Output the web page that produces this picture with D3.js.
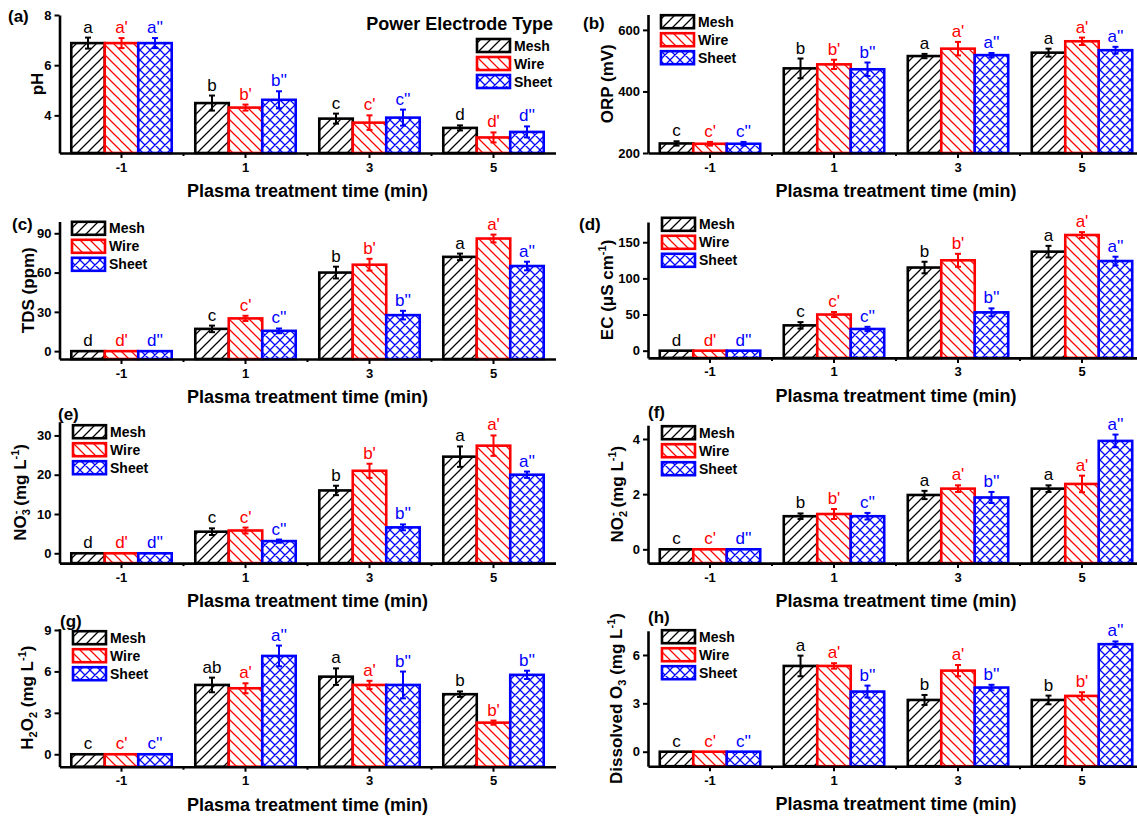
<!DOCTYPE html>
<html>
<head>
<meta charset="utf-8">
<script src="https://cdn.jsdelivr.net/npm/d3@7"></script>
<style>
  html, body { margin: 0; padding: 0; background: #fff; }
  svg { display: block; font-family: "Liberation Sans", Arial, sans-serif; }
</style>
</head>
<body>
<svg id="chart" width="1137" height="821"></svg>
<script>
// ---- data ----------------------------------------------------------------
const categories = ["-1", "1", "3", "5"];
const series = ["Mesh", "Wire", "Sheet"];
const seriesColors = ["#000000", "#ff0000", "#0000ff"];

// pH
const phMean = [[6.88, 4.49, 3.87, 3.50], [6.88, 4.31, 3.71, 3.12], [6.88, 4.62, 3.91, 3.34]];
const phErr  = [[0.22, 0.30, 0.20, 0.10], [0.20, 0.12, 0.29, 0.20], [0.20, 0.34, 0.32, 0.22]];
const phSig  = [["a", "b", "c", "d"], ["a'", "b'", "c'", "d'"], ["a''", "b''", "c''", "d''"]];
const phTicks = [4, 6, 8];

// ORP (mV)
const orpMean = [[231, 475, 515, 526], [230, 488, 539, 563], [230, 472, 518, 534]];
const orpErr  = [[7, 32, 7, 13], [6, 15, 22, 12], [6, 22, 7, 11]];
const orpSig  = [["c", "b", "a", "a"], ["c'", "b'", "a'", "a'"], ["c''", "b''", "a''", "a''"]];
const orpTicks = [200, 400, 600];

// TDS (ppm)
const tdsMean = [[0, 17, 60, 72], [0, 25, 66, 86], [0, 15.5, 27.5, 65]];
const tdsErr  = [[0, 2.5, 4.5, 2.5], [0, 2, 4.5, 3], [0, 1.8, 3.3, 3.3]];
const tdsSig  = [["d", "c", "b", "a"], ["d'", "c'", "b'", "a'"], ["d''", "c''", "b''", "a''"]];
const tdsTicks = [0, 30, 60, 90];

// EC (uS/cm)
const ecMean = [[0, 35, 115, 137], [0, 50, 125, 160], [0, 30, 53, 124]];
const ecErr  = [[0, 4.5, 8, 8], [0, 3.5, 9, 4], [0, 3, 5.5, 6]];
const ecSig  = [["d", "c", "b", "a"], ["d'", "c'", "b'", "a'"], ["d''", "c''", "b''", "a''"]];
const ecTicks = [0, 50, 100, 150];

// Nitrate (mg/L)
const no3Mean = [[0, 5.5, 16, 24.6], [0, 5.8, 21, 27.4], [0, 3.1, 6.6, 20]];
const no3Err  = [[0, 0.85, 1.2, 2.6], [0, 0.75, 1.8, 2.6], [0, 0.4, 0.75, 0.8]];
const no3Sig  = [["d", "c", "b", "a"], ["d'", "c'", "b'", "a'"], ["d''", "c''", "b''", "a''"]];
const no3Ticks = [0, 10, 20, 30];

// Nitrite (mg/L)
const no2Mean = [[0, 1.2, 1.97, 2.2], [0, 1.28, 2.2, 2.37], [0, 1.2, 1.88, 3.93]];
const no2Err  = [[0, 0.1, 0.15, 0.12], [0, 0.18, 0.12, 0.3], [0, 0.12, 0.2, 0.23]];
const no2Sig  = [["c", "b", "a", "a"], ["c'", "b'", "a'", "a'"], ["d''", "c''", "b''", "a''"]];
const no2Ticks = [0, 2, 4];

// Hydrogen peroxide (mg/L)
const h2o2Mean = [[0, 5.02, 5.62, 4.35], [0, 4.78, 5.02, 2.29], [0, 7.12, 5.02, 5.75]];
const h2o2Err  = [[0, 0.53, 0.6, 0.2], [0, 0.36, 0.3, 0.15], [0, 0.75, 0.97, 0.3]];
const h2o2Sig  = [["c", "ab", "a", "b"], ["c'", "a'", "a'", "b'"], ["c''", "a''", "b''", "b''"]];
const h2o2Ticks = [0, 3, 6, 9];

// Dissolved ozone (mg/L)
const o3Mean = [[0, 5.32, 3.21, 3.21], [0, 5.32, 5.03, 3.46], [0, 3.73, 3.98, 6.67]];
const o3Err  = [[0, 0.64, 0.31, 0.27], [0, 0.17, 0.35, 0.23], [0, 0.37, 0.17, 0.17]];
const o3Sig  = [["c", "a", "b", "b"], ["c'", "a'", "a'", "b'"], ["c''", "b''", "b''", "a''"]];
const o3Ticks = [0, 3, 6];

// ---- panel layout ---------------------------------------------------------
const L = 59.5, R = 648, W = 496;
const panels = [
  { tag: "(a)", tagX: 8,   tagY: 22,  x0: L, yr: [153, 15],     dom: [2.5, 8],   ticks: phTicks,   mean: phMean,   err: phErr,   sig: phSig,
    title: [["pH"]], titleX: 37, legX: 477, legY: 45.5, legendTitle: true },
  { tag: "(b)", tagX: 583, tagY: 29,  x0: R, yr: [153, 14.5],   dom: [200, 650], ticks: orpTicks,  mean: orpMean,  err: orpErr,  sig: orpSig,
    title: [["ORP (mV)"]], titleX: 606.5, legX: 661, legY: 21.7 },
  { tag: "(c)", tagX: 12,  tagY: 230, x0: L, yr: [359, 221.5],  dom: [-6, 99],   ticks: tdsTicks,  mean: tdsMean,  err: tdsErr,  sig: tdsSig,
    title: [["TDS (ppm)"]], titleX: 27.5, legX: 72, legY: 228.3 },
  { tag: "(d)", tagX: 579, tagY: 230, x0: R, yr: [357.9, 222],  dom: [-10, 178], ticks: ecTicks,   mean: ecMean,   err: ecErr,   sig: ecSig,
    title: [["EC (\u03bcS cm"], ["-1", "sup"], [")"]], titleX: 606.5, legX: 662, legY: 224.3 },
  { tag: "(e)", tagX: 58,  tagY: 420, x0: L, yr: [563.1, 421.7], dom: [-2.5, 33.5], ticks: no3Ticks, mean: no3Mean, err: no3Err, sig: no3Sig,
    title: [["NO"], ["3", "sub"], ["-", "supk"], [" (mg L"], ["-1", "sup"], [")"]], titleX: 20, legX: 73, legY: 431.7 },
  { tag: "(f)", tagX: 648, tagY: 418, x0: R, yr: [563.1, 425.2], dom: [-0.5, 4.5], ticks: no2Ticks, mean: no2Mean, err: no2Err, sig: no2Sig,
    title: [["NO"], ["2", "sub"], ["-", "supk"], [" (mg L"], ["-1", "sup"], [")"]], titleX: 617, legX: 662, legY: 432.7 },
  { tag: "(g)", tagX: 60,  tagY: 627, x0: L, yr: [766.7, 628.6], dom: [-0.9, 9.1], ticks: h2o2Ticks, mean: h2o2Mean, err: h2o2Err, sig: h2o2Sig,
    title: [["H"], ["2", "sub"], ["O"], ["2", "sub"], [" (mg L"], ["-1", "sup"], [")"]], titleX: 27, legX: 73, legY: 637.7 },
  { tag: "(h)", tagX: 648, tagY: 623, x0: R, yr: [766.2, 630.8], dom: [-0.9, 7.5], ticks: o3Ticks, mean: o3Mean, err: o3Err, sig: o3Sig,
    title: [["Dissolved O"], ["3", "sub"], [" (mg L"], ["-1", "sup"], [")"]], titleX: 615.5, legX: 662, legY: 636.7 }
];

const svg = d3.select("#chart");
const defs = svg.append("defs");

// hatch fills: "/" for Mesh, "\" for Wire, cross for Sheet
const hatchKinds = ["fwd", "back", "cross"];
function makeHatch(id, color, kind) {
  const s = 10;
  const p = defs.append("pattern").attr("id", id)
    .attr("patternUnits", "userSpaceOnUse").attr("width", s).attr("height", s);
  p.append("rect").attr("width", s).attr("height", s).attr("fill", "#fff");
  let d = "";
  if (kind === "fwd" || kind === "cross") d += `M-1,${s + 1} L${s + 1},-1 M-1,1 L1,-1 M${s - 1},${s + 1} L${s + 1},${s - 1} `;
  if (kind === "back" || kind === "cross") d += `M-1,-1 L${s + 1},${s + 1} M-1,${s - 1} L1,${s + 1} M${s - 1},-1 L${s + 1},1`;
  p.append("path").attr("d", d).attr("stroke", color).attr("stroke-width", 1.25).attr("fill", "none");
}
series.forEach((s, i) => makeHatch("hatch-" + s, seriesColors[i], hatchKinds[i]));

function drawPanel(P) {
  const g = svg.append("g");
  const x = d3.scaleBand().domain(categories).range([P.x0, P.x0 + W]).paddingInner(0.19).paddingOuter(0.095);
  const xs = d3.scaleBand().domain(series).range([0, x.bandwidth()]);
  const y = d3.scaleLinear().domain(P.dom).range(P.yr);
  const yBase = P.yr[0];

  // bars
  series.forEach((s, si) => {
    g.append("g").selectAll("rect").data(categories).join("rect")
      .attr("x", c => x(c) + xs(s))
      .attr("y", (c, ci) => y(P.mean[si][ci]))
      .attr("width", xs.bandwidth())
      .attr("height", (c, ci) => yBase - y(P.mean[si][ci]))
      .attr("fill", `url(#hatch-${s})`)
      .attr("stroke", seriesColors[si]).attr("stroke-width", 2.6);
  });

  // error bars and significance letters
  series.forEach((s, si) => {
    const col = seriesColors[si];
    categories.forEach((c, ci) => {
      const v = P.mean[si][ci], e = P.err[si][ci];
      const cx = x(c) + xs(s) + xs.bandwidth() / 2;
      const yt = y(v + e), yb = Math.min(y(v - e), yBase);
      if (e > 0) {
        g.append("line").attr("x1", cx).attr("x2", cx).attr("y1", yt).attr("y2", yb)
          .attr("stroke", col).attr("stroke-width", 2);
        [yt, yb].forEach(yy => g.append("line").attr("x1", cx - 3).attr("x2", cx + 3)
          .attr("y1", yy).attr("y2", yy).attr("stroke", col).attr("stroke-width", 2));
      }
      g.append("text").attr("x", cx).attr("y", yt - 5).attr("text-anchor", "middle")
        .attr("font-size", 17).attr("fill", col).text(P.sig[si][ci]);
    });
  });

  // axes
  const xAxis = g.append("g").attr("transform", `translate(0,${yBase})`)
    .call(d3.axisBottom(x).tickSize(5).tickSizeOuter(0).tickPadding(3));
  const bounds = d3.range(1, categories.length).map(i => P.x0 + x.step() * i);
  xAxis.selectAll(".minor").data(bounds).join("line").attr("class", "minor")
    .attr("x1", d => d).attr("x2", d => d).attr("y1", 0).attr("y2", 3)
    .attr("stroke", "#000").attr("stroke-width", 2);
  const yAxis = g.append("g").attr("transform", `translate(${P.x0},0)`)
    .call(d3.axisLeft(y).tickValues(P.ticks).tickSize(5).tickSizeOuter(0).tickPadding(3).tickFormat(d3.format("d")));
  [xAxis, yAxis].forEach(a => {
    a.select(".domain").attr("stroke", "#000").attr("stroke-width", 2.6);
    a.selectAll(".tick line").attr("stroke", "#000").attr("stroke-width", 2);
    a.selectAll(".tick text").attr("fill", "#000").attr("font-size", 13).attr("font-weight", "bold")
      .attr("font-family", "Liberation Sans, Arial, sans-serif");
  });
  xAxis.selectAll(".tick text").attr("dy", null).attr("y", 18.5);

  // axis titles
  g.append("text").attr("x", P.x0 + W / 2).attr("y", yBase + 44).attr("text-anchor", "middle")
    .attr("font-size", 18).attr("font-weight", "bold").text("Plasma treatment time (min)");

  const yt = g.append("text")
    .attr("transform", `translate(${P.titleX + 6},${(P.yr[0] + P.yr[1]) / 2}) rotate(-90)`)
    .attr("text-anchor", "middle").attr("font-size", 17).attr("font-weight", "bold");
  let shift = 0;
  P.title.forEach(([t, kind]) => {
    const target = kind === "sub" ? 4 : (kind === "sup" || kind === "supk") ? -7 : 0;
    const ts = yt.append("tspan").attr("dy", target - shift).text(t);
    if (kind) ts.attr("font-size", 11);
    if (kind === "supk") ts.attr("dx", -5);
    shift = target;
  });

  // panel tag
  g.append("text").attr("x", P.tagX).attr("y", P.tagY).attr("font-size", 17)
    .attr("font-weight", "bold").text(P.tag);

  // legend
  const lg = g.append("g");
  if (P.legendTitle) {
    lg.append("text").attr("x", 553).attr("y", 30).attr("text-anchor", "end")
      .attr("font-size", 18).attr("font-weight", "bold").text("Power Electrode Type");
  }
  series.forEach((s, si) => {
    const cy = P.legY + si * 18;
    lg.append("rect").attr("x", P.legX).attr("y", cy - 6.5).attr("width", 33).attr("height", 13)
      .attr("fill", `url(#hatch-${s})`).attr("stroke", seriesColors[si]).attr("stroke-width", 2.6);
    lg.append("text").attr("x", P.legX + 37).attr("y", cy + 5).attr("font-size", 14)
      .attr("font-weight", "bold").text(s);
  });
}

panels.forEach(drawPanel);
</script>
</body>
</html>
